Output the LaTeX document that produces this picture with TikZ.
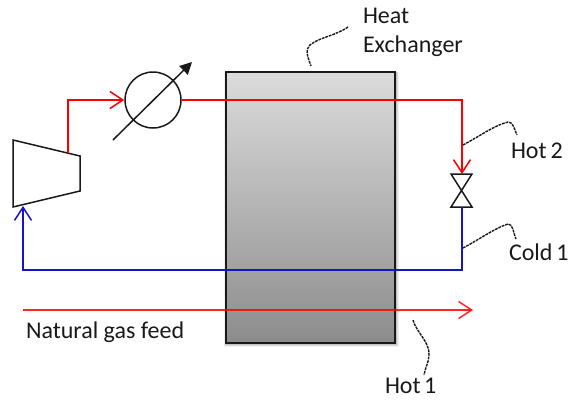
\documentclass[tikz,border=0pt]{standalone}
\usepackage{fontspec}
\setmainfont{Carlito}
\usetikzlibrary{arrows.meta}
\definecolor{hotred}{RGB}{255,0,0}
\definecolor{coldblue}{RGB}{20,20,200}
\definecolor{edgeblack}{RGB}{25,25,25}
\tikzset{
  x=1pt,y=-1pt,
  unit/.style={draw=edgeblack,line width=1.5pt,line join=miter},
  hotline/.style={draw=hotred,line width=1.5pt,line join=miter},
  coldline/.style={draw=coldblue,line width=1.5pt,line join=miter},
  openhead/.style={-{Straight Barb[length=13pt,width=17pt,line width=1.5pt]}},
  leader/.style={draw=black!90,line width=1.4pt,dash pattern=on 2.8pt off 0.9pt},
  label/.style={anchor=base west,inner sep=0pt,outer sep=0pt,font=\fontsize{24pt}{27pt}\selectfont,text=black!90},
  exchanger/.style={unit,rectangle,minimum width=169pt,minimum height=271pt,inner sep=0pt,top color=black!14,bottom color=black!45},
  meter/.style={unit,circle,minimum size=56pt,inner sep=0pt},
}
\begin{document}
\begin{tikzpicture}
\useasboundingbox (0,0) rectangle (577,399);
% shadow
\foreach \d/\o in {4/0.06,3/0.08,2/0.12}{
  \fill[black,opacity=\o] (226-\d/2,72) rectangle (395+\d,343+\d);
}
\node[exchanger] (hx) at (310.5,207.5) {};
\node[meter] (cooler) at (153,100) {};

% compressor
\coordinate (cA) at (13,140);
\coordinate (cB) at (80,156);
\coordinate (cC) at (80,191);
\coordinate (cD) at (13,207);
\coordinate (cOut) at (68,153);
\coordinate (cIn) at (23,206);
\draw[unit] (cA) -- (cB) -- (cC) -- (cD) -- cycle;

% valve
\coordinate (vTL) at (451,174);
\coordinate (vTR) at (472,174);
\coordinate (vBL) at (451,207);
\coordinate (vBR) at (472,207);
\coordinate (vTop) at (462,174);
\coordinate (vBot) at (462,207);
\draw[unit] (vTL) -- (vTR) -- (vBL) -- (vBR) -- cycle;

% cooler arrow
\coordinate (aA) at (113,140);
\coordinate (aB) at (192,62);
\draw[unit,-{Triangle[length=12pt,width=12pt]}] (aA) -- (aB);

% streams
\coordinate (h2a) at (68,100);
\coordinate (h2b) at (462,100);
\coordinate (c1a) at (462,270);
\coordinate (c1b) at (23,270);
\coordinate (h1a) at (23,310);
\coordinate (h1b) at (473,310);
\draw[hotline,openhead] (cOut) -- (h2a) -- (cooler.west);
\draw[hotline] (cooler.east) -- (h2b) -- (vTop |- 0,140);
\draw[hotline,line width=2pt,openhead] (vTop |- 0,140) -- (vTop);
\draw[coldline,openhead] (vBot) -- (c1a) -- (c1b) -- (cIn);
\draw[hotline,openhead,opacity=.85] (h1a) -- (h1b);

% labels
\node[label] (lblA) at (363,23) {Heat};
\node[label] (lblB) at (363,52) {Exchanger};
\node[label] (lblC) at (511,158) {Hot\kern-1.5pt\ 2};
\node[label] (lblD) at (509,260) {Cold\kern-1.5pt\ 1};
\node[label] (lblE) at (385,393) {Hot\kern-2pt\ 1};
\node[label] (lblF) at (26,338) {Natural gas feed};

% leaders
\draw[leader] (348,27) .. controls (335,36) and (320,37) .. (310,45) .. controls (305,50) and (307,55) .. (311,66);
\draw[leader] (463,145) .. controls (480,136) and (495,125) .. (508,122) .. controls (513,122) and (514,128) .. (517,135);
\draw[leader] (463,248) .. controls (480,239) and (495,228) .. (508,224) .. controls (513,224) and (513,232) .. (516,239);
\draw[leader] (413,320) .. controls (416,332) and (430,342) .. (429,355) .. controls (429,362) and (425,368) .. (424,375);
\end{tikzpicture}
\end{document}
